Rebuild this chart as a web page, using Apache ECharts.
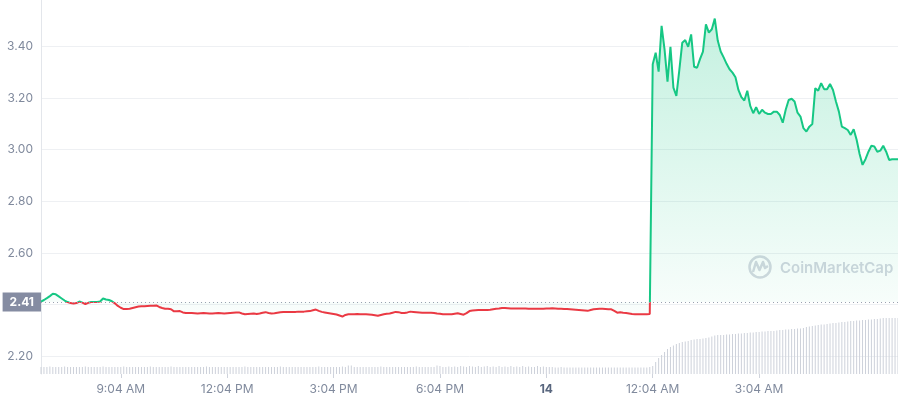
<!DOCTYPE html>
<html>
<head>
<meta charset="utf-8">
<script src="https://cdn.jsdelivr.net/npm/echarts@6/dist/echarts.min.js"></script>
<style>
  html, body { margin: 0; padding: 0; background: #fff; }
  #chart { width: 898px; height: 400px; }
</style>
</head>
<body>
<div id="chart"></div>
<script>
// 5-minute samples, first one at 06:49
const startTime = '06:49'
const stepMinutes = 5

const prices = [
  2.412, 2.418, 2.425, 2.433, 2.442, 2.440, 2.432, 2.424, 2.416, 2.410,
  2.406, 2.404, 2.406, 2.412, 2.408, 2.402, 2.407, 2.410, 2.410, 2.410,
  2.412, 2.424, 2.420, 2.418, 2.413, 2.405, 2.395, 2.388, 2.383, 2.383,
  2.384, 2.387, 2.390, 2.393, 2.394, 2.394, 2.395, 2.396, 2.396, 2.397,
  2.391, 2.387, 2.384, 2.384, 2.382, 2.374, 2.374, 2.375, 2.370, 2.368,
  2.368, 2.368, 2.367, 2.366, 2.367, 2.368, 2.367, 2.366, 2.366, 2.367,
  2.368, 2.367, 2.366, 2.367, 2.368, 2.369, 2.370, 2.370, 2.366, 2.363,
  2.364, 2.365, 2.366, 2.364, 2.366, 2.369, 2.371, 2.368, 2.366, 2.367,
  2.369, 2.371, 2.372, 2.372, 2.372, 2.372, 2.372, 2.373, 2.373, 2.373,
  2.374, 2.375, 2.378, 2.381, 2.376, 2.372, 2.370, 2.368, 2.366, 2.364,
  2.362, 2.358, 2.354, 2.360, 2.363, 2.363, 2.363, 2.364, 2.363, 2.363,
  2.363, 2.362, 2.361, 2.359, 2.357, 2.360, 2.363, 2.365, 2.366, 2.369,
  2.372, 2.371, 2.368, 2.368, 2.370, 2.373, 2.372, 2.371, 2.370, 2.369,
  2.369, 2.369, 2.369, 2.368, 2.366, 2.365, 2.363, 2.363, 2.363, 2.363,
  2.365, 2.367, 2.364, 2.361, 2.367, 2.375, 2.377, 2.378, 2.379, 2.379,
  2.379, 2.379, 2.380, 2.382, 2.384, 2.385, 2.387, 2.387, 2.386, 2.385,
  2.385, 2.385, 2.385, 2.385, 2.385, 2.384, 2.384, 2.384, 2.384, 2.384,
  2.384, 2.385, 2.385, 2.386, 2.385, 2.384, 2.384, 2.383, 2.383, 2.382,
  2.381, 2.380, 2.379, 2.378, 2.377, 2.376, 2.379, 2.382, 2.383, 2.384,
  2.384, 2.383, 2.382, 2.382, 2.376, 2.369, 2.371, 2.369, 2.368, 2.366,
  2.364, 2.363, 2.363, 2.363, 2.363, 2.363, 2.364,
  3.330, 3.375, 3.302, 3.479, 3.388, 3.263, 3.398, 3.240, 3.208, 3.308,
  3.414, 3.424, 3.398, 3.446, 3.321, 3.317, 3.350, 3.379, 3.485, 3.453,
  3.466, 3.507, 3.422, 3.380, 3.357, 3.332, 3.311, 3.298, 3.280, 3.231,
  3.203, 3.190, 3.228, 3.169, 3.141, 3.164, 3.138, 3.154, 3.143, 3.138,
  3.138, 3.147, 3.147, 3.134, 3.104, 3.154, 3.192, 3.197, 3.186, 3.143,
  3.128, 3.083, 3.070, 3.089, 3.099, 3.238, 3.228, 3.257, 3.234, 3.234,
  3.254, 3.231, 3.186, 3.147, 3.089, 3.083, 3.076, 3.057, 3.079, 3.038,
  2.983, 2.941, 2.963, 2.992, 3.015, 3.012, 2.992, 2.996, 3.015, 2.992,
  2.960, 2.963, 2.963, 2.963
]

// relative volume per 5-minute bar
const volumes = [
  7, 7, 7, 7.5, 7, 7, 7, 7, 7.5, 7,
  7, 7, 7, 7, 7, 7.5, 7, 7, 7, 7,
  7, 7.5, 7, 7, 7, 7, 7, 7, 7.5, 7,
  7, 7, 7, 7, 7, 7, 7, 7.5, 7, 7,
  7, 7, 7, 7, 7.5, 7, 7, 7, 7, 7,
  7, 7, 7, 7, 7, 7, 7.5, 7, 7, 7,
  7, 7, 7, 7, 7, 7, 7, 7, 7, 7.5,
  7, 7, 7, 7, 7, 7, 7, 7, 7, 7,
  7, 7.5, 7, 7, 7, 7, 7, 7, 7, 7,
  7, 7, 7, 7, 7.5, 7, 7, 7, 7, 7,
  7, 7, 7.5, 7, 8.5, 8.5, 7, 7, 7, 7,
  7, 7, 7, 7, 7, 7.5, 7, 7, 7, 7,
  7, 7, 7, 7, 7, 7, 7, 7.5, 7, 7,
  7, 7, 7, 7, 8.5, 8, 7, 7, 7.5, 7,
  7.5, 7, 8, 7.5, 7, 8, 7.5, 7, 8, 7,
  7.5, 8, 7, 7.5, 7, 8, 7, 7.5, 7, 8,
  7, 7.5, 7, 8, 7, 7.5, 7, 7, 8, 7,
  7.5, 7, 7, 7, 6.5, 6.5, 7, 6.5, 6.5, 6.5,
  6.5, 6.5, 6.5, 6.5, 6.5, 6.5, 6.5, 6.5, 6.5, 6.5,
  6.5, 6.5, 6.5, 6.5, 6.5, 6.5, 6.5, 6.5, 6.5, 6.5,
  6.5, 6.5, 6.5, 6.5, 6.5, 6.5, 7,
  8, 12, 16, 19, 22, 25, 27, 28.5, 30, 31,
  32, 32.5, 33, 34, 34.5, 35, 35, 35.5, 36, 36.5,
  37.5, 38.5, 39, 39, 39, 39.5, 39.5, 40, 40, 40.5,
  40.5, 41, 41, 41.5, 41.5, 42, 42, 42.5, 42.5, 43,
  43, 43, 43.5, 44, 44, 44.5, 44.5, 45, 45, 45.5,
  45.5, 46, 47, 47.5, 48, 48.5, 49, 49.5, 49.5, 50,
  50.5, 51, 51, 51.5, 52, 52, 52.5, 53, 53, 53.5,
  53.5, 54, 54, 54.5, 54.5, 55, 55, 55.5, 56, 56,
  56, 56, 56, 56
]

const baseline = 2.41
const yTickValues = [2.2, 2.6, 2.8, 3.0, 3.2, 3.4]
const xTickTimes = ['09:04', '12:04', '15:04', '18:04', '21:04', '00:04', '03:04']
const xTickLabels = ['9:04 AM', '12:04 PM', '3:04 PM', '6:04 PM', '14', '12:04 AM', '3:04 AM']

const green = '#16c784'
const red = '#ea3943'
const labelColor = '#808a9d'

// category labels HH:MM
const [h0, m0] = startTime.split(':').map(Number)
const times = prices.map((_, i) => {
  const t = (h0 * 60 + m0 + i * stepMinutes) % 1440
  return String(Math.floor(t / 60)).padStart(2, '0') + ':' + String(t % 60).padStart(2, '0')
})

const isTick = (idx, val) => xTickTimes.includes(val)

const chart = echarts.init(document.getElementById('chart'))

const option = {
  animation: false,
  backgroundColor: '#fff',
  textStyle: { fontFamily: 'Inter, "Noto Sans", sans-serif' },
  grid: [
    { left: 41, right: 0, top: -5.4, height: 413.4, outerBoundsMode: 'none' },
    { left: 41, right: 0, top: 0, bottom: 26, outerBoundsMode: 'none' },
  ],
  xAxis: [
    {
      type: 'category',
      gridIndex: 0,
      data: times,
      boundaryGap: false,
      show: false,
    },
    {
      type: 'category',
      gridIndex: 1,
      data: times,
      boundaryGap: false,
      axisLine: { show: false },
      axisTick: { show: true, interval: isTick, length: 4, lineStyle: { color: '#cfd3dc' } },
      axisLabel: {
        interval: isTick,
        margin: 9,
        fontSize: 12,
        color: labelColor,
        formatter: (val) => {
          const k = xTickTimes.indexOf(val)
          if (k < 0) return ''
          return xTickLabels[k] === '14' ? '{b|14}' : xTickLabels[k]
        },
        rich: { b: { fontWeight: 'bold', color: '#58667e', fontSize: 12 } },
      },
      splitLine: { show: false },
    },
  ],
  yAxis: [
    {
      type: 'value',
      gridIndex: 0,
      min: 2.0,
      max: 3.6,
      interval: 0.2,
      axisLine: { show: false },
      axisTick: { show: false },
      axisLabel: {
        margin: 8,
        fontSize: 12,
        color: labelColor,
        formatter: (v) => (yTickValues.some((t) => Math.abs(t - v) < 1e-6) ? v.toFixed(2) : ''),
      },
      splitLine: { lineStyle: { color: '#eef0f3', width: 1 } },
    },
    {
      type: 'value',
      gridIndex: 1,
      min: 0,
      max: 374,
      axisLine: { show: true, lineStyle: { color: '#e3e6eb' } },
      axisTick: { show: false },
      axisLabel: { show: false },
      splitLine: { show: false },
    },
  ],
  visualMap: {
    type: 'piecewise',
    show: false,
    seriesIndex: 0,
    dimension: 1,
    pieces: [
      { gt: baseline, lte: 10, color: green },
      { gt: 0, lte: baseline, color: red },
    ],
    outOfRange: { color: red },
  },
  series: [
    {
      name: 'price',
      type: 'line',
      xAxisIndex: 0,
      yAxisIndex: 0,
      data: prices,
      symbol: 'none',
      lineStyle: { width: 2 },
      areaStyle: {
        origin: baseline,
        color: new echarts.graphic.LinearGradient(0, 0, 0, 1, [
          { offset: 0, color: 'rgba(22,199,132,0.36)' },
          { offset: 1, color: 'rgba(22,199,132,0.03)' },
        ]),
      },
      z: 3,
      markLine: {
        silent: true,
        symbol: 'none',
        lineStyle: { color: '#9aa1b0', type: [1, 3], width: 1 },
        label: {
          position: 'start',
          distance: 0,
          formatter: () => baseline.toFixed(2),
          color: '#fff',
          fontWeight: 'bold',
          fontSize: 12,
          backgroundColor: '#858ca2',
          padding: [4, 7, 3, 7],
        },
        data: [{ yAxis: baseline }],
      },
    },
    {
      name: 'volume',
      type: 'bar',
      xAxisIndex: 1,
      yAxisIndex: 1,
      data: volumes,
      barWidth: 1,
      itemStyle: { color: '#cdd1da' },
      z: 1,
    },
  ],
  graphic: [
    {
      type: 'circle',
      silent: true,
      shape: { cx: 760, cy: 267, r: 10.5 },
      style: { fill: 'none', stroke: '#d4d8e0', lineWidth: 2.5 },
    },
    {
      type: 'polyline',
      silent: true,
      shape: { points: [[753, 272], [756, 262], [759.5, 270], [763, 262], [765, 268], [768, 266]] },
      style: { fill: 'none', stroke: '#d4d8e0', lineWidth: 2.5, lineJoin: 'round' },
    },
    {
      type: 'text',
      silent: true,
      x: 780,
      y: 268.5,
      style: {
        text: 'CoinMarketCap',
        fill: '#d2d6df',
        font: '600 15px Inter, "Noto Sans", sans-serif',
        verticalAlign: 'middle',
      },
    },
  ],
}

chart.setOption(option)
</script>
</body>
</html>
